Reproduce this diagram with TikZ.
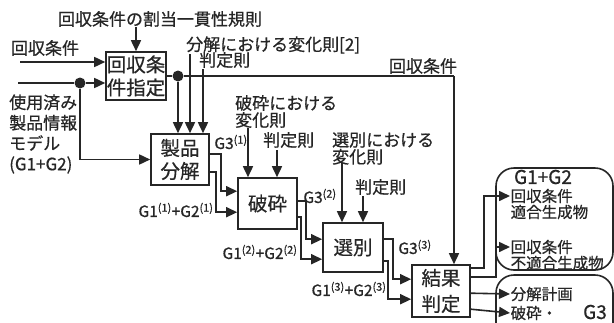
\documentclass[tikz,border=0pt]{standalone}
\usepackage{fontspec}
\setmainfont{Noto Sans CJK JP}[FakeBold=0.6]
\usetikzlibrary{arrows.meta}
\definecolor{ink}{RGB}{38,38,38}
\begin{document}
\begin{tikzpicture}[x=1pt,y=-1pt,
  ln/.style={line width=1.6pt, draw=ink},
  arr/.style={ln, -{Triangle[length=11pt,width=10pt]}},
  box/.style={draw=ink, line width=1.6pt, fill=white, inner sep=0pt, align=center, text=ink, font=\fontsize{19.5}{23}\selectfont},
  lbl/.style={inner sep=0pt, text=ink, align=left, font=\fontsize{17}{17}\selectfont},
  sub/.style={inner sep=0pt, text=ink, font=\fontsize{15.5}{16}\selectfont},
  outt/.style={inner sep=0.5pt, anchor=west, text=ink, font=\fontsize{15.5}{16}\selectfont},
  grp/.style={draw=ink, line width=1.6pt, rounded corners=18pt, inner sep=0pt},
  dot/.style={circle, fill=ink, inner sep=0pt, minimum size=11pt},
]
\clip (0,0) rectangle (614,322);
\fill[white] (0,0) rectangle (614,322);

% process boxes
\node[box, minimum width=60pt, minimum height=48pt] (spec) at (136,76) {回収条\\件指定};
\node[box, minimum width=58pt, minimum height=51pt] (decomp) at (180,159.5) {製品\\分解};
\node[box, minimum width=59pt, minimum height=51pt] (crush) at (267.5,203.5) {破砕};
\node[box, minimum width=60pt, minimum height=49pt] (sort) at (353,247.5) {選別};
\node[box, minimum width=58pt, minimum height=52pt, font=\fontsize{19.5}{26}\selectfont] (judge) at (441,291) {結果\\判定};

% result groups
\node[grp, minimum width=117pt, minimum height=102pt] (grp1) at (554.5,219) {};
\node[grp, minimum width=117pt, minimum height=97pt] (grp2) at (554.5,323.5) {};
\node[lbl, font=\fontsize{19}{19}\selectfont] (g12) at (543,177) {G1+G2};
\node[lbl, font=\fontsize{19}{19}\selectfont] (g3) at (595,312) {G3};
\node[outt] (ok1) at (510,196) {回収条件};
\node[outt] (ok2) at (510,212) {適合生成物};
\node[outt] (ng1) at (510,247) {回収条件};
\node[outt] (ng2) at (510,263) {不適合生成物};
\node[outt] (plan) at (510,294) {分解計画};
\node[outt] (crt) at (510,313) {破砕・};

% labels
\node[lbl] (title) at (160,19) {回収条件の割当一貫性規則};
\node[lbl] (rcin) at (45,48) {回収条件};
\node[lbl, anchor=west, font=\fontsize{17}{20.5}\selectfont] (model) at (9,134) {使用済み\\製品情報\\モデル\\(G1+G2)};
\node[lbl, anchor=west] (dlbl) at (186,45) {分解における変化則[2]};
\node[lbl, anchor=west] (dj) at (199,60) {判定則};
\node[lbl, anchor=west] (clbl) at (235,111.5) {破砕における\\変化則};
\node[lbl, anchor=west] (cj) at (263,140) {判定則};
\node[lbl, anchor=west] (slbl) at (332,148.5) {選別における\\変化則};
\node[lbl, anchor=west] (sj) at (355,187) {判定則};
\node[lbl] (rclbl) at (423,66) {回収条件};
\node[sub] (g31) at (231,142) {G3\textsuperscript{(1)}};
\node[sub] (g121) at (176,210) {G1\textsuperscript{(1)}+G2\textsuperscript{(1)}};
\node[sub] (g32) at (320,196) {G3\textsuperscript{(2)}};
\node[sub] (g122) at (260,252) {G1\textsuperscript{(2)}+G2\textsuperscript{(2)}};
\node[sub] (g33) at (415,247) {G3\textsuperscript{(3)}};
\node[sub] (g123) at (349,289) {G1\textsuperscript{(3)}+G2\textsuperscript{(3)}};

% dots and free ends
\node[dot] (d1) at (80,83) {};
\node[dot] (d2) at (178,76) {};
\coordinate (in1) at (20,62);
\coordinate (in2) at (18,83);
\coordinate (rc) at (454,76);
\coordinate (dl) at (190,54);
\coordinate (djs) at (203,69);
\coordinate (cl) at (248,128);
\coordinate (cjs) at (277,150);
\coordinate (sl) at (342,163);
\coordinate (sjs) at (363,196);

% connectors
\draw[arr] (title.south -| spec.north) -- (spec.north);
\draw[arr] (in1) -- (in1 -| spec.west);
\draw[ln] (in2) -- (d1);
\draw[arr] (d1) -- (d1 -| spec.west);
\draw[arr] (d1) |- (decomp.west);
\draw[ln] (spec.east) -- (d2);
\draw[ln] (d2) -- (rc);
\draw[arr] (rc) -- (rc |- judge.north);
\draw[arr] (d2) -- (d2 |- decomp.north);
\draw[arr] (dl) -- (dl |- decomp.north);
\draw[arr] (djs) -- (djs |- decomp.north);

\draw[arr] ([yshift=-21pt]decomp.north east) -- ++(11,0) |- ([yshift=-14pt]crush.north west);
\draw[arr] ([yshift=-39pt]decomp.north east) -- ++(6,0) |- ([yshift=-35pt]crush.north west);
\draw[arr] (cl) -- (cl |- crush.north);
\draw[arr] (cjs) -- (cjs |- crush.north);

\draw[arr] ([yshift=-24pt]crush.north east) -- ++(8,0) |- ([yshift=-17pt]sort.north west);
\draw[arr] ([yshift=-40pt]crush.north east) -- ++(3,0) |- ([yshift=-37pt]sort.north west);
\draw[arr] (sl) -- (sl |- sort.north);
\draw[arr] (sjs) -- (sjs |- sort.north);

\draw[arr] ([yshift=-17pt]sort.north east) -- ++(9,0) |- ([yshift=-15pt]judge.north west);
\draw[arr] ([yshift=-39pt]sort.north east) -- ++(4,0) |- ([yshift=-35pt]judge.north west);

\draw[arr] ([yshift=-4pt]judge.north east) -- ++(13,0) |- (ok1.west);
\draw[arr] ([yshift=-13pt]judge.north east) -- ++(25,0) |- (ng1.west);
\draw[arr] ([yshift=-29pt]judge.north east) -- (plan.west);
\draw[arr] ([yshift=-45pt]judge.north east) -- (crt.west);
\end{tikzpicture}
\end{document}
